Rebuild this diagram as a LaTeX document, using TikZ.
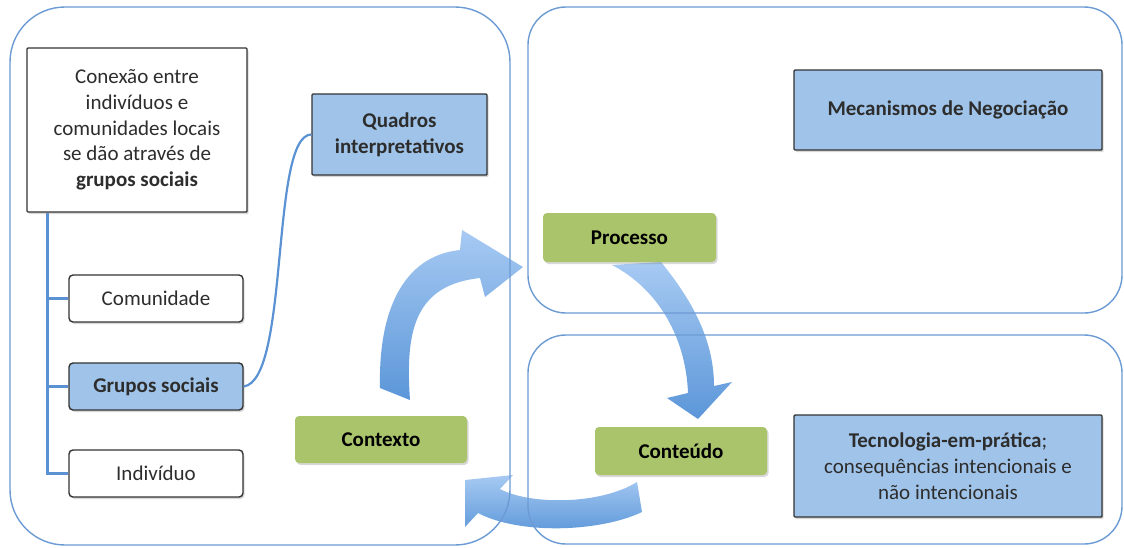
\documentclass[tikz,border=0pt]{standalone}
\usepackage{fontspec}
\setmainfont{Carlito}
\usetikzlibrary{shadows}
\definecolor{panelblue}{RGB}{108,155,212}
\definecolor{linkblue}{RGB}{91,146,211}
\definecolor{boxblue}{RGB}{160,196,233}
\definecolor{boxgreen}{RGB}{170,196,108}
\definecolor{arrowlight}{RGB}{160,198,242}
\definecolor{arrowdark}{RGB}{78,142,214}
\definecolor{txt}{RGB}{45,45,45}
\tikzset{
  panel/.style={draw=panelblue, line width=1.4pt},
  basebox/.style={inner sep=0pt, align=center, text=txt,
    font=\fontsize{21}{25.7}\selectfont,
    drop shadow={shadow xshift=1.5pt, shadow yshift=-2pt, opacity=0.3}},
  framebox/.style={basebox, draw=black!80, line width=1.4pt, rounded corners=1pt},
  itembox/.style={basebox, draw=black!80, line width=1.4pt, rounded corners=4pt,
    minimum width=174pt, minimum height=47pt},
  greenbox/.style={basebox, fill=boxgreen, rounded corners=4pt, text=black,
    font=\fontsize{21}{25.7}\selectfont\bfseries},
  tree/.style={draw=linkblue, line width=3pt},
  link/.style={draw=linkblue, line width=2.2pt},
  blockarrow/.style={top color=arrowlight, bottom color=arrowdark, opacity=0.92}
}
\begin{document}
\begin{tikzpicture}[x=1pt, y=-1pt]
\useasboundingbox[fill=white] (0,0) rectangle (1124,547);

% curved block arrows of the cycle
\shade[blockarrow] (380,388) .. controls (378,300) and (410,255) .. (460,250)
  -- (462,230) -- (523,267) -- (485,297) -- (480,278)
  .. controls (415,285) and (405,330) .. (410,400) -- cycle;
\shade[blockarrow] (612,265) -- (661,262) .. controls (692,300) and (714,340) .. (714,386)
  -- (732,382) -- (698,419) -- (667,398) -- (688,393)
  .. controls (686,340) and (660,290) .. (612,265) -- cycle;
\shade[blockarrow] (637,482) -- (642,512) .. controls (600,532) and (520,535) .. (478,513)
  -- (465,527) -- (465,480) -- (513,475) -- (500,489)
  .. controls (530,505) and (600,505) .. (637,482) -- cycle;

% the three panels
\draw[panel, rounded corners=55pt] (10,7) rectangle (510,545);
\draw[panel, rounded corners=38pt] (528,7) rectangle (1122,313);
\draw[panel, rounded corners=38pt] (528,335) rectangle (1122,544);

% left panel
\node[framebox, fill=white, minimum width=220pt, minimum height=164pt] (conexao) at (137,130)
  {Conexão entre\\indivíduos e\\comunidades locais\\se dão através de\\\textbf{grupos sociais}};
\node[framebox, fill=boxblue, minimum width=175pt, minimum height=81pt] (quadros) at (399.5,134.5)
  {\textbf{Quadros}\\\textbf{interpretativos}};
\node[itembox, fill=white] (com) at (156,298.5) {Comunidade};
\node[itembox, fill=boxblue] (grupos) at (156,386.5) {\textbf{Grupos sociais}};
\node[itembox, fill=white] (ind) at (156,473.5) {Indivíduo};

\coordinate (trunk) at ([xshift=21pt]conexao.south west);
\draw[tree] (trunk) |- (ind.west);
\draw[tree] (trunk |- com.west) -- (com.west);
\draw[tree] (trunk |- grupos.west) -- (grupos.west);
\draw[link] (grupos.east) .. controls (290,380) and (270,135) .. (quadros.west);

% cycle stages
\node[greenbox, minimum width=172pt, minimum height=47pt] (contexto) at (381,439.5) {Contexto};
\node[greenbox, minimum width=173pt, minimum height=49pt] (processo) at (629.5,237.5) {Processo};
\node[greenbox, minimum width=172pt, minimum height=48pt] (conteudo) at (681,451) {Conteúdo};

% right panels
\node[framebox, fill=boxblue, minimum width=308pt, minimum height=80pt] (mec) at (948,110)
  {\textbf{Mecanismos de Negociação}};
\node[framebox, fill=boxblue, minimum width=308pt, minimum height=102pt] (tec) at (948,466)
  {\textbf{Tecnologia-em-prática};\\consequências intencionais e\\não intencionais};
\end{tikzpicture}
\end{document}
